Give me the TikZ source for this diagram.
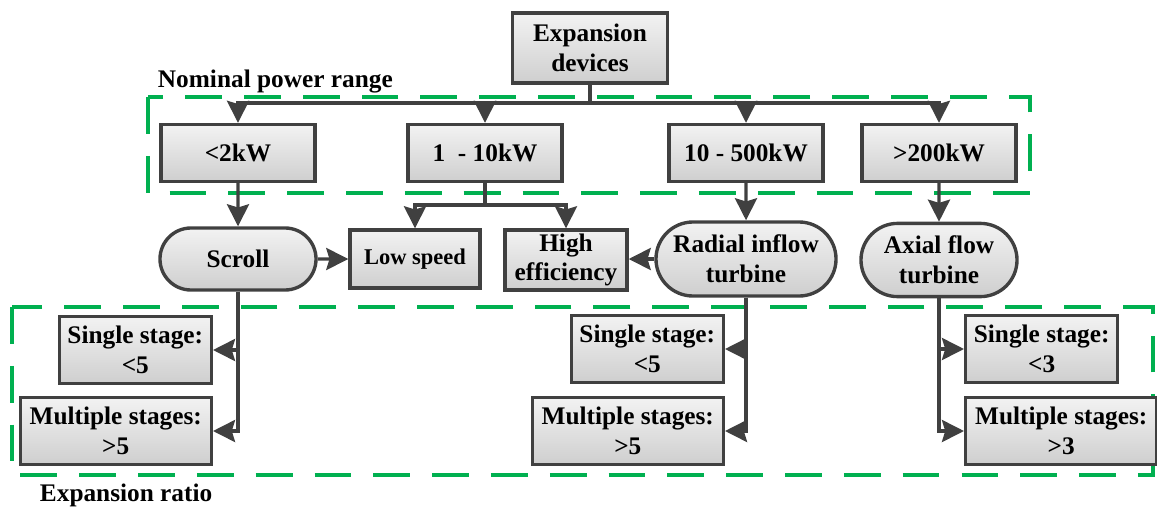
\documentclass[tikz,border=0pt]{standalone}
\usepackage{fontspec}
\setmainfont{Liberation Serif}
\usetikzlibrary{arrows.meta,shapes.misc}
\definecolor{boxGray}{RGB}{64,64,64}
\definecolor{rangeGreen}{RGB}{0,176,80}
\tikzset{
    block/.style={rectangle, draw=boxGray, top color=gray!10, bottom color=gray!38,
                  line width=2.4pt, inner sep=0pt, align=center,
                  font=\fontsize{18}{21}\selectfont\bfseries},
    blockRound/.style={block, rounded rectangle},
    line/.style={draw, ->, >={Stealth[length=0.55cm,width=0.55cm,inset=0.08cm]},
                 line width=2.4pt, boxGray},
    lineGreen/.style={draw, rangeGreen, line width=3.4pt, dash pattern=on 0.92cm off 0.55cm}
}

\begin{document}
\begin{tikzpicture}[x=0.025cm, y=-0.025cm]
  \useasboundingbox (0,0) rectangle (1157,507);

  % dashed groups
  \draw[lineGreen] (148,97) rectangle (1030,193);
  \draw[lineGreen] (12,307) rectangle (1153,475);
  \node[anchor=base west, font=\fontsize{18}{22}\selectfont\bfseries] (powerLabel) at (153,87) {Nominal power range};
  \node[anchor=base west, font=\fontsize{18}{22}\selectfont\bfseries] (ratioLabel) at (35,501) {Expansion ratio};

  % nodes
  \node[block, minimum width=3.875cm, minimum height=1.75cm] (EXP) at (590,48) {Expansion\\devices};

  \node[block, minimum width=3.85cm, minimum height=1.425cm] (P1) at (238,153) {<2kW};
  \node[block, minimum width=3.85cm, minimum height=1.425cm] (P2) at (485,153) {1\ \ - 10kW};
  \node[block, minimum width=3.85cm, minimum height=1.425cm] (P3) at (746,153) {10 - 500kW};
  \node[block, minimum width=3.85cm, minimum height=1.425cm] (P4) at (939,153) {>200kW};

  \node[blockRound, minimum width=3.9cm, minimum height=1.55cm] (SC) at (238,259) {Scroll};
  \node[block, minimum width=3.25cm, minimum height=1.45cm, font=\fontsize{16}{19}\selectfont\bfseries] (LS) at (415,259) {Low speed};
  \node[block, minimum width=3.05cm, minimum height=1.5cm] (HE) at (566,260) {High\\efficiency};
  \node[blockRound, minimum width=4.5cm, minimum height=1.85cm] (RT) at (746,259) {Radial inflow\\turbine};
  \node[blockRound, minimum width=3.9cm, minimum height=1.83cm] (AT) at (939,260) {Axial flow\\turbine};

  \node[block, anchor=east, minimum width=3.8cm, minimum height=1.675cm] (S1) at (213,350) {Single stage:\\<5};
  \node[block, anchor=east, minimum width=4.775cm, minimum height=1.675cm] (M1) at (213,431) {Multiple stages:\\>5};
  \node[block, anchor=east, minimum width=3.8cm, minimum height=1.675cm] (S2) at (725,349) {Single stage:\\<5};
  \node[block, anchor=east, minimum width=4.775cm, minimum height=1.675cm] (M2) at (725,431) {Multiple stages:\\>5};
  \node[block, anchor=west, minimum width=3.8cm, minimum height=1.675cm] (S3) at (964,349) {Single stage:\\<3};
  \node[block, anchor=west, minimum width=4.775cm, minimum height=1.675cm] (M3) at (964,431) {Multiple stages:\\>3};

  % connectors
  \coordinate (bus) at (590,103);
  \coordinate (split) at (485,205);
  \draw[line, -] (EXP.south) -- (bus);
  \foreach \p in {P1,P2,P3,P4}
    \draw[line] (bus) -| (\p.north);

  \draw[line] (P1) -- (SC);
  \draw[line, -] (P2) -- (split);
  \draw[line] (split) -| (LS.north);
  \draw[line] (split) -| (HE.north);
  \draw[line] (P3) -- (RT);
  \draw[line] (P4) -- (AT);
  \draw[line] (SC) -- (LS);
  \draw[line] (RT.west) -- (RT.west -| HE.east);

  \draw[line] (SC.south) |- (S1.east);
  \draw[line] (SC.south) |- (M1.east);
  \draw[line] (RT.south) |- (S2.east);
  \draw[line] (RT.south) |- (M2.east);
  \draw[line] (AT.south) |- (S3.west);
  \draw[line] (AT.south) |- (M3.west);
\end{tikzpicture}
\end{document}
